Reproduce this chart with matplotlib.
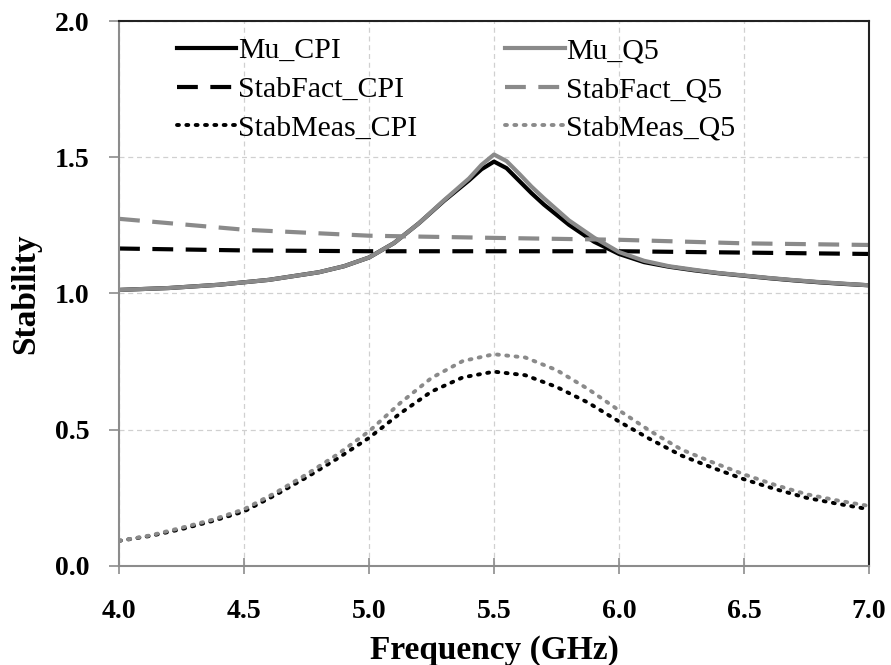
import matplotlib
matplotlib.use("Agg")
import matplotlib.pyplot as plt

# values
freq_mu = [4.0, 4.2, 4.4, 4.6, 4.8, 4.9, 5.0, 5.1, 5.2, 5.3, 5.4, 5.45, 5.5,
           5.55, 5.6, 5.65, 5.7, 5.8, 5.9, 6.0, 6.1, 6.2, 6.3, 6.4, 6.5,
           6.6, 6.7, 6.8, 6.9, 7.0]
mu_cpi = [1.013, 1.020, 1.032, 1.050, 1.078, 1.100, 1.132, 1.185, 1.258, 1.340,
          1.415, 1.456, 1.484, 1.460, 1.414, 1.368, 1.326, 1.252, 1.190, 1.145,
          1.115, 1.098, 1.085, 1.074, 1.065, 1.056, 1.048, 1.041, 1.035, 1.030]
mu_q5 = [1.013, 1.020, 1.032, 1.050, 1.078, 1.100, 1.132, 1.185, 1.258, 1.342,
         1.422, 1.472, 1.510, 1.486, 1.440, 1.392, 1.349, 1.268, 1.205, 1.152,
         1.120, 1.100, 1.087, 1.075, 1.066, 1.057, 1.049, 1.042, 1.036, 1.030]

freq_fact = [4.0, 4.5, 5.0, 5.5, 6.0, 6.5, 7.0]
fact_cpi = [1.165, 1.158, 1.155, 1.155, 1.155, 1.150, 1.145]
fact_q5 = [1.274, 1.234, 1.212, 1.204, 1.197, 1.184, 1.178]

freq_meas = [4.0, 4.125, 4.25, 4.375, 4.5, 4.625, 4.75, 4.875, 5.0, 5.125,
             5.25, 5.375, 5.5, 5.625, 5.75, 5.875, 6.0, 6.125, 6.25, 6.375,
             6.5, 6.625, 6.75, 6.875, 7.0]
meas_cpi = [0.092, 0.110, 0.135, 0.165, 0.200, 0.260, 0.325, 0.395, 0.470,
            0.560, 0.640, 0.692, 0.713, 0.700, 0.657, 0.600, 0.530, 0.465,
            0.405, 0.360, 0.318, 0.282, 0.250, 0.228, 0.208]
meas_q5 = [0.092, 0.112, 0.140, 0.170, 0.208, 0.268, 0.336, 0.410, 0.494,
           0.598, 0.690, 0.752, 0.777, 0.765, 0.719, 0.650, 0.571, 0.495,
           0.427, 0.380, 0.336, 0.297, 0.263, 0.240, 0.220]

x_ticks = [4.0, 4.5, 5.0, 5.5, 6.0, 6.5, 7.0]
y_ticks = [0.0, 0.5, 1.0, 1.5, 2.0]

plt.rcParams['font.family'] = ['Liberation Serif', 'DejaVu Serif']

fig = plt.figure(figsize=(8.91, 6.65), dpi=100)
ax = fig.add_axes([0.1336, 0.149, 0.8417, 0.8194])

black = "#000000"
gray = "#8a8a8a"
dot = (0, (0.5, 1.9))

ax.plot(freq_mu, mu_cpi, color=black, lw=3.0, label="Mu_CPI")
ax.plot(freq_fact, fact_cpi, color=black, lw=3.0, ls=(0, (5, 3)),
        label="StabFact_CPI")
ax.plot(freq_meas, meas_cpi, color=black, lw=2.8, ls=dot,
        dash_capstyle='round', label="StabMeas_CPI")
ax.plot(freq_mu, mu_q5, color=gray, lw=3.0, label="Mu_Q5")
ax.plot(freq_fact, fact_q5, color=gray, lw=3.0, ls=(0, (5, 3)),
        label="StabFact_Q5")
ax.plot(freq_meas, meas_q5, color=gray, lw=2.8, ls=dot,
        dash_capstyle='round', label="StabMeas_Q5")

ax.set_xlim(4.0, 7.0)
ax.set_ylim(0.0, 2.0)
ax.set_xticks(x_ticks)
ax.set_yticks(y_ticks)
ax.set_xticklabels([f"{v:.1f}" for v in x_ticks])
ax.set_yticklabels([f"{v:.1f}" for v in y_ticks])
for lab in ax.get_xticklabels() + ax.get_yticklabels():
    lab.set_fontweight('bold')
    lab.set_fontsize(20)

ax.grid(True, color="#d0d0d0", ls=(0, (4, 3)), lw=0.9)
ax.set_axisbelow(True)

ax.spines['left'].set_color("#8c8c8c")
ax.spines['bottom'].set_color("#8c8c8c")
ax.spines['top'].set_color("#222222")
ax.spines['right'].set_color("#222222")
for s in ax.spines.values():
    s.set_linewidth(1.5)
ax.tick_params(axis='x', direction='inout', length=12, width=1.2,
               color="#8c8c8c", pad=18)
ax.tick_params(axis='y', direction='out', length=7, width=1.2,
               color="#8c8c8c", pad=14)

ax.set_xlabel("Frequency (GHz)", fontsize=24, fontweight='bold', labelpad=8)
ax.set_ylabel("Stability", fontsize=24, fontweight='bold', labelpad=10)

ax.legend(loc='upper left', bbox_to_anchor=(0.045, 1.014), ncol=2,
          frameon=False, fontsize=21.5, handlelength=2.0, handletextpad=0.05,
          columnspacing=2.95, labelspacing=0.4, borderpad=0.3)

fig.savefig("out.png", dpi=100)
